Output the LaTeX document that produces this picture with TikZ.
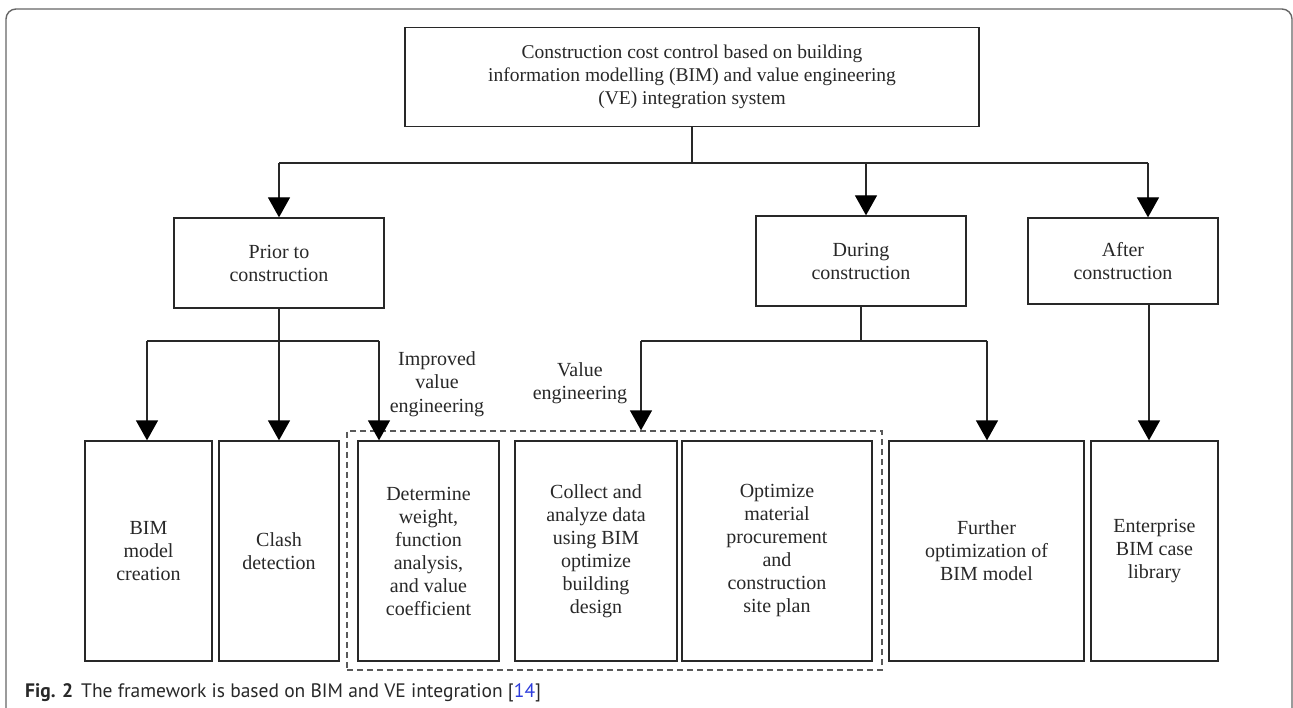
\documentclass[tikz,border=0pt]{standalone}
\usepackage{fontspec}
\setmainfont{Liberation Serif}
\newfontfamily\capfont{PT Sans}
\usetikzlibrary{arrows.meta}
\definecolor{linkblue}{RGB}{45,60,220}
\definecolor{ink}{RGB}{40,40,40}
\begin{document}
\begin{tikzpicture}[x=1pt,y=-1pt,
  box/.style={draw=ink, line width=1.3pt, align=center, inner sep=0pt,
    font=\fontsize{20}{23}\selectfont, text=ink},
  conn/.style={draw=ink, line width=1.3pt},
  arr/.style={conn, -{Triangle[length=20pt,width=22pt,fill=black,color=black]}},
  lbl/.style={align=center, inner sep=0pt, font=\fontsize{20}{23.5}\selectfont, text=ink},
  vebox/.style={draw=black!65, line width=1.3pt, dash pattern=on 6pt off 4pt, inner sep=0pt}]
\useasboundingbox (0,0) rectangle (1293,708);
\fill[white] (0,0) rectangle (1293,708);
\draw[black!60, line width=1.4pt, rounded corners=10pt] (6,730) -- (6,9) -- (1292,9) -- (1292,730);

% top
\node[box, font=\fontsize{19.5}{23}\selectfont, minimum width=574pt, minimum height=99pt] (top) at (692,77)
  {Construction cost control based on building\\information modelling (BIM) and value engineering\\(VE) integration system};

% phases
\node[box, minimum width=210pt, minimum height=90pt] (prior) at (279,263) {Prior to\\construction};
\node[box, minimum width=210pt, minimum height=90pt] (during) at (861,261) {During\\construction};
\node[box, minimum width=190pt, minimum height=86pt] (after) at (1123,261) {After\\construction};

% dashed group
\node[vebox, minimum width=535pt, minimum height=239pt] (ve) at (614.5,550.5) {};

% bottom boxes
\node[box, minimum width=127pt, minimum height=220pt] (bim) at (148.5,551) {BIM\\model\\creation};
\node[box, minimum width=120pt, minimum height=220pt] (clash) at (279,551) {Clash\\detection};
\node[box, minimum width=141pt, minimum height=220pt] (det) at (428.5,551) {Determine\\weight,\\function\\analysis,\\and value\\coefficient};
\node[box, minimum width=162pt, minimum height=220pt] (coll) at (596,551) {Collect and\\analyze data\\using BIM\\optimize\\building\\design};
\node[box, minimum width=190pt, minimum height=220pt] (opt) at (777,551) {Optimize\\material\\procurement\\and\\construction\\site plan};
\node[box, minimum width=195pt, minimum height=220pt] (fur) at (986.5,551) {Further\\optimization of\\BIM model};
\node[box, minimum width=127pt, minimum height=220pt] (ent) at (1154.5,551) {Enterprise\\BIM case\\library};

% labels
\node[lbl] (ive) at (437,384) {Improved\\value\\engineering};
\node[lbl] (vel) at (580,383) {Value\\engineering};

% connectors top level
\coordinate (hl) at (279,163);
\coordinate (hr) at (1148,163);
\coordinate (hm) at (866,163);
\draw[conn] (top.south) -- (top.south |- hl);
\draw[conn] (hl) -- (hr);
\draw[arr] (hl) -- (prior.north);
\draw[arr] (hm) -- (hm |- during.north);
\draw[arr] (hr) -- (hr |- after.north);

% prior branch
\coordinate (pl) at (147,341);
\coordinate (pr) at (379,341);
\draw[conn] (prior.south) -- (prior.south |- pl);
\draw[conn] (pl) -- (pr);
\draw[arr] (pl) -- (pl |- bim.north);
\draw[arr] (prior.south |- pl) -- (clash.north);
\draw[arr] (pr) -- (pr |- det.north);

% during branch
\coordinate (dl) at (641,341);
\coordinate (dr) at (987,341);
\draw[conn] (during.south) -- (during.south |- dl);
\draw[conn] (dl) -- (dr);
\draw[arr] (dl) -- (dl |- ve.north);
\draw[arr] (dr) -- (dr |- fur.north);

% after branch
\coordinate (as) at (1149,304);
\draw[arr] (as) -- (as |- ent.north);

% caption
\node[anchor=west, inner sep=0pt, font=\capfont\fontsize{19.5}{22}\selectfont, text=ink] (cap) at (25,693)
  {\textbf{Fig. 2}\hspace{8pt}The framework is based on BIM and VE integration [\textcolor{linkblue}{14}]};
\end{tikzpicture}
\end{document}
